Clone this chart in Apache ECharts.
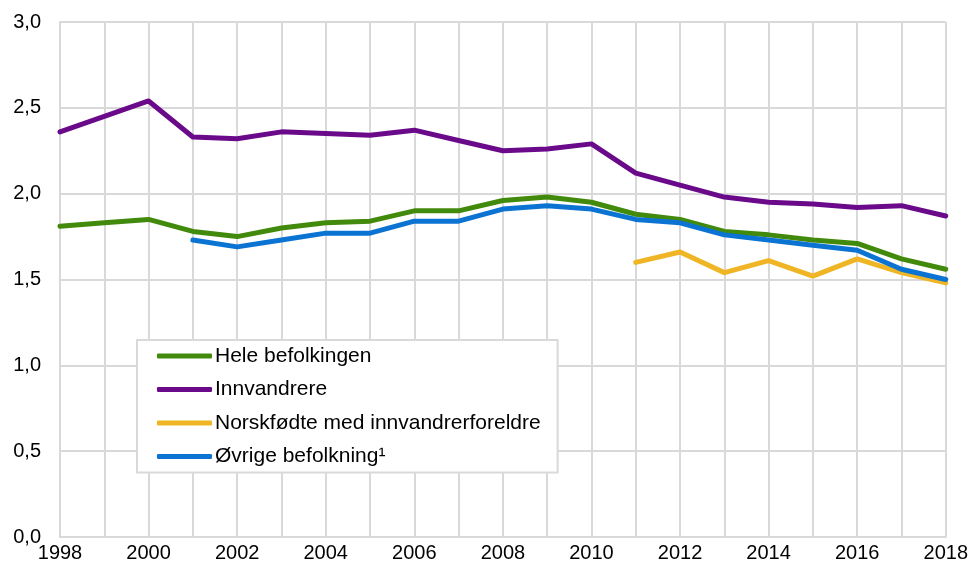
<!DOCTYPE html>
<html>
<head>
<meta charset="utf-8">
<script src="https://cdn.jsdelivr.net/npm/echarts@6/dist/echarts.min.js"></script>
<style>
  html, body { margin: 0; padding: 0; background: #fff; }
  #main { width: 971px; height: 565px; }
</style>
</head>
<body>
<div id="main"></div>
<script>
// årstall
var years = ['1998','1999','2000','2001','2002','2003','2004','2005','2006','2007','2008',
             '2009','2010','2011','2012','2013','2014','2015','2016','2017','2018'];

var hele = [1.81,1.83,1.85,1.78,1.75,1.80,1.83,1.84,1.90,1.90,1.96,
            1.98,1.95,1.88,1.85,1.78,1.76,1.73,1.71,1.62,1.56];
var innvandrere = [2.36,2.45,2.54,2.33,2.32,2.36,2.35,2.34,2.37,2.31,2.25,
                   2.26,2.29,2.12,2.05,1.98,1.95,1.94,1.92,1.93,1.87];
var norskfodte = [null,null,null,null,null,null,null,null,null,null,null,
                  null,null,1.60,1.66,1.54,1.61,1.52,1.62,1.54,1.48];
var ovrige = [null,null,null,1.73,1.69,1.73,1.77,1.77,1.84,1.84,1.91,
              1.93,1.91,1.85,1.83,1.76,1.73,1.70,1.67,1.56,1.50];

var yTicks = [0, 0.5, 1, 1.5, 2, 2.5, 3];

var font = 'Liberation Sans, Arial, sans-serif';
var grey = '#d9d9d9';

function line(name, data, color) {
    return {
        name: name,
        type: 'line',
        data: data,
        symbol: 'none',
        connectNulls: false,
        lineStyle: { color: color, width: 5, cap: 'round', join: 'round' },
        itemStyle: { color: color }
    };
}

var ec = echarts.init(document.getElementById('main'));
ec.setOption({
    animation: false,
    textStyle: { fontFamily: font },
    grid: { left: 60, right: 25, top: 22, bottom: 28 },
    legend: {
        orient: 'vertical',
        left: 137,
        top: 340,
        padding: [5, 17, 5, 20],
        itemGap: 11.5,
        itemWidth: 55,
        itemHeight: 5,
        icon: 'roundRect',
        backgroundColor: '#fff',
        borderColor: grey,
        borderWidth: 2,
        textStyle: { fontFamily: font, fontSize: 21, color: '#000', padding: [0, 0, 0, -2], lineHeight: 22 },
        data: ['Hele befolkingen', 'Innvandrere', 'Norskfødte med innvandrerforeldre', 'Øvrige befolkning¹']
    },
    xAxis: {
        type: 'category',
        data: years,
        boundaryGap: false,
        axisLine: { lineStyle: { color: grey, width: 2 } },
        axisTick: { show: false },
        axisLabel: { interval: 1, color: '#000', fontSize: 20, fontFamily: font, margin: 6 },
        splitLine: { show: true, interval: 0, lineStyle: { color: grey, width: 2 } }
    },
    yAxis: {
        type: 'value',
        min: yTicks[0],
        max: yTicks[yTicks.length - 1],
        interval: 0.5,
        axisLine: { show: true, lineStyle: { color: grey, width: 2 } },
        axisTick: { show: false },
        axisLabel: {
            color: '#000', fontSize: 20, fontFamily: font, margin: 19,
            formatter: function (v) { return v.toFixed(1).replace('.', ','); }
        },
        splitLine: { lineStyle: { color: grey, width: 2 } }
    },
    series: [
        line('Hele befolkingen', hele, '#428a0c'),
        line('Innvandrere', innvandrere, '#6a0a8a'),
        line('Norskfødte med innvandrerforeldre', norskfodte, '#efb524'),
        line('Øvrige befolkning¹', ovrige, '#0b74d2')
    ]
});
</script>
</body>
</html>
